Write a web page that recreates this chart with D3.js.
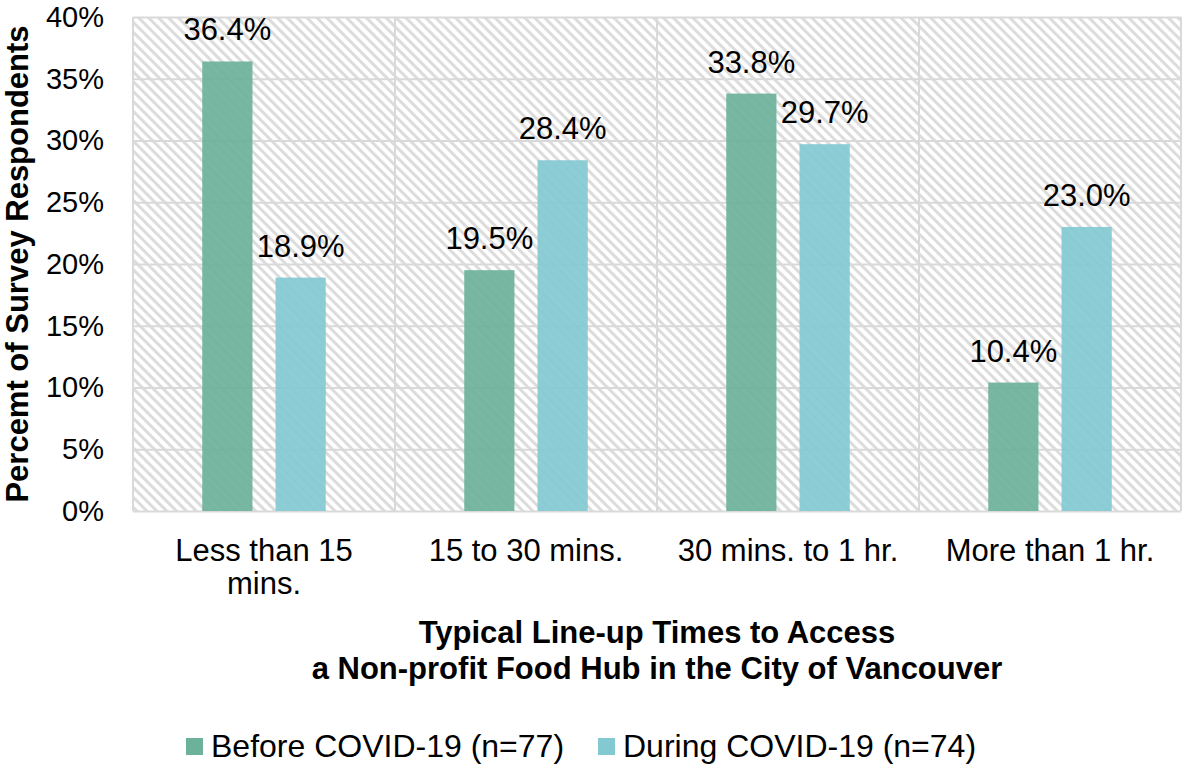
<!DOCTYPE html>
<html>
<head>
<meta charset="utf-8">
<script src="https://cdn.jsdelivr.net/npm/d3@7"></script>
<style>
  body { margin: 0; background: #fff; }
  text { font-family: "Liberation Sans", Arial, sans-serif; fill: #000; }
</style>
</head>
<body>
<div id="chart"></div>
<script>
// data
var categories = ["Less than 15 mins.", "15 to 30 mins.", "30 mins. to 1 hr.", "More than 1 hr."];
var categoryLines = [["Less than 15", "mins."], ["15 to 30 mins."], ["30 mins. to 1 hr."], ["More than 1 hr."]];
var seriesNames = ["Before COVID-19 (n=77)", "During COVID-19 (n=74)"];
var beforeValues = [36.4, 19.5, 33.8, 10.4];
var duringValues = [18.9, 28.4, 29.7, 23.0];
var yTicks = [0, 5, 10, 15, 20, 25, 30, 35, 40];
var colors = ["#6cb19a", "#82c9d2"];

var width = 1184, height = 764;
var margin = {left: 133, right: 3, top: 17, bottom: 253};
var fs = 31;

var svg = d3.select("#chart").append("svg")
  .attr("width", width)
  .attr("height", height);

var defs = svg.append("defs");
var hatch = defs.append("pattern")
  .attr("id", "hatch")
  .attr("patternUnits", "userSpaceOnUse")
  .attr("width", 7).attr("height", 7)
  .attr("patternTransform", "rotate(-45)");
hatch.append("rect").attr("width", 7).attr("height", 7).attr("fill", "#fff");
hatch.append("rect").attr("width", 3).attr("height", 7).attr("fill", "#dcdcdc");

var x0 = d3.scaleBand()
  .domain(categories)
  .range([margin.left, width - margin.right]);
var x1 = d3.scaleBand()
  .domain([0, 1])
  .range([0, x0.bandwidth()])
  .paddingInner(0.315)
  .paddingOuter(0.945);
var y = d3.scaleLinear()
  .domain([0, 40])
  .range([height - margin.bottom, margin.top]);

// plot background with hatching
svg.append("rect")
  .attr("x", margin.left)
  .attr("y", margin.top)
  .attr("width", width - margin.left - margin.right)
  .attr("height", y(0) - margin.top)
  .attr("fill", "url(#hatch)");

// horizontal grid
svg.append("g")
  .attr("transform", "translate(" + margin.left + ",0)")
  .call(d3.axisLeft(y).tickValues(yTicks)
    .tickSize(-(width - margin.left - margin.right))
    .tickFormat(""))
  .call(function(g) {
    g.select(".domain").remove();
    g.selectAll("line").attr("stroke", "#d9d9d9").attr("stroke-width", 2);
  });

// vertical category dividers
var bounds = categories.map(function(c) { return x0(c); }).concat([width - margin.right]);
svg.append("g").selectAll("line")
  .data(bounds)
  .enter().append("line")
  .attr("x1", function(d) { return d; })
  .attr("x2", function(d) { return d; })
  .attr("y1", margin.top)
  .attr("y2", y(0))
  .attr("stroke", "#d9d9d9")
  .attr("stroke-width", 2);

// y tick labels
svg.append("g")
  .attr("transform", "translate(" + margin.left + ",0)")
  .call(d3.axisLeft(y).tickValues(yTicks).tickSize(0).tickPadding(29)
    .tickFormat(function(d) { return d + "%"; }))
  .call(function(g) {
    g.select(".domain").remove();
    g.selectAll("text").attr("font-size", 29)
      .attr("font-family", "Liberation Sans, Arial, sans-serif")
      .attr("fill", "#000");
  });

// bars
var rows = categories.map(function(c, i) {
  return {cat: c, vals: [beforeValues[i], duringValues[i]]};
});
var groups = svg.append("g").selectAll("g")
  .data(rows)
  .enter().append("g")
  .attr("transform", function(d) { return "translate(" + x0(d.cat) + ",0)"; });

groups.selectAll("rect")
  .data(function(d) { return d.vals.map(function(v, k) { return {k: k, v: v}; }); })
  .enter().append("rect")
  .attr("x", function(d) { return x1(d.k); })
  .attr("y", function(d) { return y(d.v); })
  .attr("width", x1.bandwidth())
  .attr("height", function(d) { return y(0) - y(d.v); })
  .attr("fill", function(d) { return colors[d.k]; })
  .attr("fill-opacity", 0.92);

groups.selectAll("text")
  .data(function(d) { return d.vals.map(function(v, k) { return {k: k, v: v}; }); })
  .enter().append("text")
  .attr("x", function(d) { return x1(d.k) + x1.bandwidth() / 2; })
  .attr("y", function(d) { return y(d.v) - 21; })
  .attr("text-anchor", "middle")
  .attr("font-size", fs)
  .text(function(d) { return d.v.toFixed(1) + "%"; });

// category labels
var catLabels = svg.append("g").selectAll("text")
  .data(categories)
  .enter().append("text")
  .attr("x", function(d) { return x0(d) + x0.bandwidth() / 2; })
  .attr("y", 561)
  .attr("text-anchor", "middle")
  .attr("font-size", fs);
catLabels.each(function(d, i) {
  var t = d3.select(this);
  categoryLines[i].forEach(function(line, j) {
    t.append("tspan")
      .attr("x", x0(d) + x0.bandwidth() / 2)
      .attr("dy", j === 0 ? 0 : 33)
      .text(line);
  });
});

// axis titles
var xTitle = svg.append("text")
  .attr("text-anchor", "middle")
  .attr("font-size", fs)
  .attr("font-weight", "bold");
xTitle.append("tspan").attr("x", 657).attr("y", 643).text("Typical Line-up Times to Access");
xTitle.append("tspan").attr("x", 657).attr("y", 679).text("a Non-profit Food Hub in the City of Vancouver");

svg.append("text")
  .attr("transform", "translate(28," + (margin.top + (y(0) - margin.top) / 2) + ") rotate(-90)")
  .attr("text-anchor", "middle")
  .attr("font-size", fs)
  .attr("font-weight", "bold")
  .text("Percemt of Survey Respondents");

// legend
var legendX = [186, 598];
var legend = svg.append("g").selectAll("g")
  .data(seriesNames)
  .enter().append("g")
  .attr("transform", function(d, i) { return "translate(" + legendX[i] + ",738)"; });
legend.append("rect")
  .attr("width", 17).attr("height", 17)
  .attr("fill", function(d, i) { return colors[i]; });
legend.append("text")
  .attr("x", 25)
  .attr("y", 19)
  .attr("font-size", 32)
  .text(function(d) { return d; });
</script>
</body>
</html>
